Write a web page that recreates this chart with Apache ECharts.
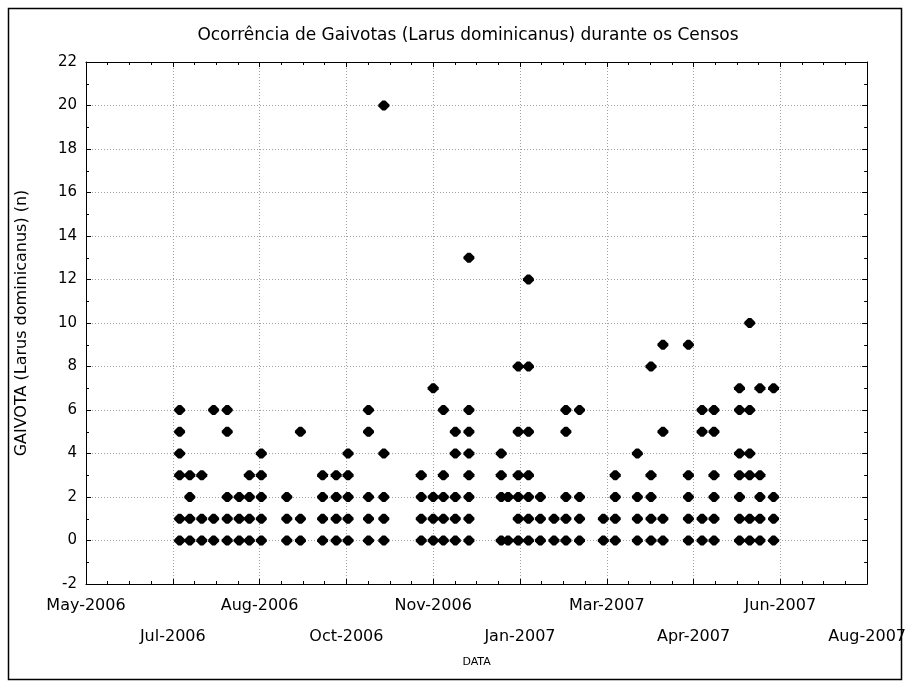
<!DOCTYPE html>
<html>
<head>
<meta charset="utf-8">
<script src="https://cdn.jsdelivr.net/npm/echarts@6/dist/echarts.min.js"></script>
<style>html,body{margin:0;padding:0;background:#fff;}#chart{width:909px;height:686px;}</style>
</head>
<body>
<div id="chart"></div>
<script>
// x axis: days since the axis origin (first tick, "May-2006"), one tick every TICK_STEP days
const TICK_STEP = 51;
const tickLabels = ['May-2006','Jul-2006','Aug-2006','Oct-2006','Nov-2006','Jan-2007','Mar-2007','Apr-2007','Jun-2007','Aug-2007'];
const yTicks = [-2, 22, 2];

// census dates (days since axis origin)
const censusDays = [55,61,68,75,83,90,96,103,118,126,139,147,154,166,175,197,204,210,217,225,244,248,254,260,267,275,282,290,304,311,324,332,339,354,362,369,384,390,396,404];
// gull counts recorded at each census
const censusCounts = [
  [0,1,3,4,5,6],[0,1,2,3],[0,1,3],[0,1,6],[0,1,2,5,6],[0,1,2],[0,1,2,3],[0,1,2,3,4],
  [0,1,2],[0,1,5],[0,1,2,3],[0,1,2,3],[0,1,2,3,4],[0,1,2,5,6],[0,1,2,4,20],
  [0,1,2,3],[0,1,2,7],[0,1,2,3,6],[0,1,2,4,5],[0,1,2,3,4,5,6,13],
  [0,2,3,4],[0,2],[0,1,2,3,5,8],[0,1,2,3,5,8,12],[0,1,2],[0,1],[0,1,2,5,6],[0,1,2,6],
  [0,1],[0,1,2,3],[0,1,2,4],[0,1,2,3,8],[0,1,5,9],[0,1,2,3,9],[0,1,5,6],[0,1,2,3,5,6],
  [0,1,2,3,4,6,7],[0,1,3,4,6,10],[0,1,2,3,7],[0,1,2,7]
];

const points = [];
censusDays.forEach((d, i) => censusCounts[i].forEach(c => points.push([d, c])));

const FONT = 'DejaVu Sans';
const gridLine = {show: true, lineStyle: {color: '#a0a0a0', type: [1, 2], width: 1}};
const blackLine = {show: true, onZero: false, lineStyle: {color: '#000', width: 1}};

const chart = echarts.init(document.getElementById('chart'), null, {renderer: 'canvas'});
chart.setOption({
  animation: false,
  backgroundColor: '#fff',
  title: {
    text: 'Ocorrência de Gaivotas (Larus dominicanus) durante os Censos',
    left: 463, top: 22, textAlign: 'center',
    textStyle: {fontFamily: FONT, fontSize: 17, fontWeight: 'normal', color: '#000'}
  },
  grid: {left: 86, right: 40, top: 62, bottom: 102},
  xAxis: [{
    type: 'value', min: 0, max: TICK_STEP * (tickLabels.length - 1), interval: TICK_STEP,
    position: 'bottom',
    name: 'DATA', nameLocation: 'middle', nameGap: 72,
    nameTextStyle: {fontFamily: FONT, fontSize: 11, color: '#000'},
    axisLine: blackLine,
    axisTick: {show: true, inside: true, length: 5, lineStyle: {color: '#000'}},
    minorTick: {show: true, splitNumber: 4, length: 3, lineStyle: {color: '#000'}},
    splitLine: gridLine,
    axisLabel: {
      fontFamily: FONT, fontSize: 16, color: '#000', margin: 6, lineHeight: 31,
      formatter: (v) => {
        const i = Math.round(v / TICK_STEP);
        return i % 2 === 1 ? '\n' + tickLabels[i] : tickLabels[i];
      }
    }
  }, {
    type: 'value', min: 0, max: TICK_STEP * (tickLabels.length - 1), interval: TICK_STEP,
    position: 'top',
    axisLine: blackLine,
    axisTick: {show: true, inside: true, length: 5, lineStyle: {color: '#000'}},
    minorTick: {show: true, splitNumber: 4, length: 3, lineStyle: {color: '#000'}},
    splitLine: {show: false}, axisLabel: {show: false}
  }],
  yAxis: [{
    type: 'value', min: yTicks[0], max: yTicks[1], interval: yTicks[2],
    position: 'left',
    name: 'GAIVOTA (Larus dominicanus) (n)', nameLocation: 'middle', nameGap: 56,
    nameTextStyle: {fontFamily: FONT, fontSize: 16, color: '#000'},
    axisLine: blackLine,
    axisTick: {show: true, inside: true, length: 5, lineStyle: {color: '#000'}},
    minorTick: {show: true, splitNumber: 2, length: 3, lineStyle: {color: '#000'}},
    splitLine: gridLine,
    axisLabel: {fontFamily: FONT, fontSize: 15, color: '#000', margin: 9}
  }, {
    type: 'value', min: yTicks[0], max: yTicks[1], interval: yTicks[2],
    position: 'right',
    axisLine: blackLine,
    axisTick: {show: true, inside: true, length: 5, lineStyle: {color: '#000'}},
    minorTick: {show: true, splitNumber: 2, length: 3, lineStyle: {color: '#000'}},
    splitLine: {show: false}, axisLabel: {show: false}
  }],
  graphic: [{
    type: 'rect', shape: {x: 8.5, y: 8.5, width: 893, height: 671},
    style: {fill: 'none', stroke: '#000', lineWidth: 1.5}, silent: true
  }],
  series: [{
    type: 'scatter', xAxisIndex: 0, yAxisIndex: 0,
    data: points,
    symbol: 'path://M4,0 L7,0 L11,4 L11,6 L7,10 L4,10 L0,6 L0,4 Z',
    symbolSize: [11, 10],
    itemStyle: {color: '#000', opacity: 1},
    emphasis: {disabled: true}
  }]
});
</script>
</body>
</html>
